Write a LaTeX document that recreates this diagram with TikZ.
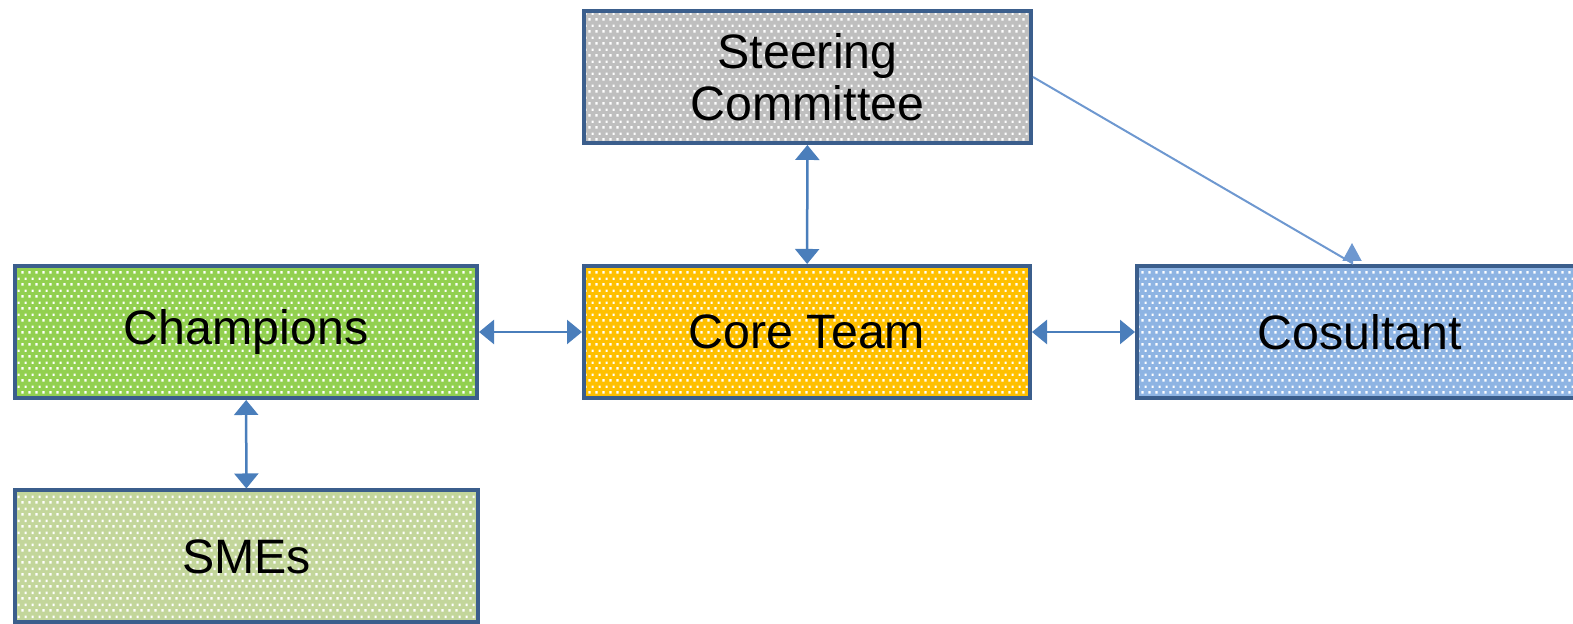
\documentclass[tikz,border=0pt]{standalone}
\usepackage{fontspec}
\setmainfont{Liberation Sans}
\usetikzlibrary{arrows.meta,patterns,patterns.meta,calc}
\definecolor{boxline}{RGB}{59,94,140}
\definecolor{linkblue}{RGB}{74,126,187}
\definecolor{diagblue}{RGB}{110,152,208}
\definecolor{steerGray}{RGB}{191,191,191}
\definecolor{champGreen}{RGB}{146,208,80}
\definecolor{coreOrange}{RGB}{255,192,0}
\definecolor{consBlue}{RGB}{142,180,227}
\definecolor{smeGreen}{RGB}{195,214,155}
\tikzdeclarepattern{
  name=whitedots,
  type=uncolored,
  bottom left={(0cm,0cm)},
  top right={(0.14cm,0.23cm)},
  tile size={(0.14cm,0.23cm)},
  code={
    \fill (0.01cm,0.01cm) rectangle (0.06cm,0.06cm);
    \fill (0.08cm,0.125cm) rectangle (0.13cm,0.175cm);
  }
}
\begin{document}
\begin{tikzpicture}[thick,
  box/.style={rectangle, draw=boxline, line width=0.08cm, preaction={fill=#1},
    pattern=whitedots, pattern color=white, minimum height=2.64cm,
    align=center, font=\fontsize{27.5}{29.6}\selectfont},
  link/.style={draw=linkblue, line width=0.05cm, {Triangle[width=0.48cm,length=0.3cm]}-{Triangle[width=0.48cm,length=0.3cm]}},
  diag/.style={draw=diagblue, line width=0.04cm, -{Triangle[width=0.38cm,length=0.36cm]}}]
\useasboundingbox (0,0) rectangle (31.46,12.48);
%%%%%%%%%%%%%%%%%%%%%%%%%%%%%%% Boxes
\node[box=steerGray, minimum width=8.94cm](steer) at (16.15,10.94){Steering\\Committee};
\node[box=coreOrange, minimum width=8.92cm](core) at (16.14,5.84){Core Team};
\node[box=champGreen, minimum width=9.24cm](champ) at (4.92,5.84){Champions};
\node[box=consBlue, minimum width=8.92cm](cons) at (27.2,5.84){Cosultant};
\node[box=smeGreen, minimum width=9.26cm](sme) at (4.93,1.35){SMEs};
%%%%%%%%%%%%%%%%%%%%%%%%%%%%%%% Links
\draw[link] (steer) -- (core);
\draw[link] (champ) -- (core);
\draw[link] (core) -- (cons);
\draw[link] (champ) -- (sme);
\coordinate (consBase) at ($(cons.north)+(-0.16,0.02)$);
\draw[diag] (steer.east) -- (consBase) -- ++(0,0.4);
\end{tikzpicture}
\end{document}
